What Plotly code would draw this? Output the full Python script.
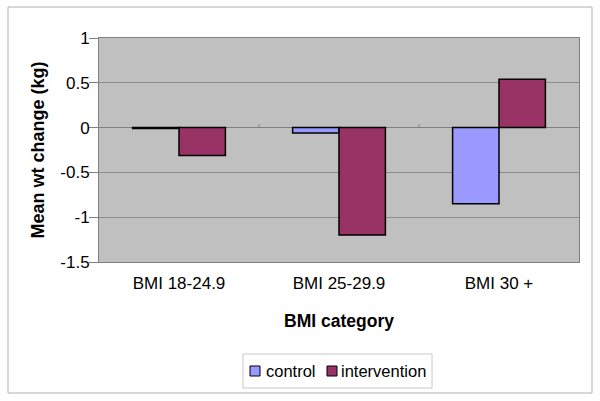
import plotly.graph_objects as go

categories = ["BMI 18-24.9", "BMI 25-29.9", "BMI 30 +"]
control = [-0.01, -0.06, -0.85]
intervention = [-0.31, -1.2, 0.54]
y_ticks = [1, 0.5, 0, -0.5, -1, -1.5]
series_names = ["control", "intervention"]
series_colors = ["#9999FF", "#993366"]

W, H = 600, 401
L, R, T, B = 99, 21, 38, 139
pw, ph = W - L - R, H - T - B

def px(xp):
    return (xp - L) / pw

def py(yp):
    return (H - B - yp) / ph

fig = go.Figure()
for name, vals, col in zip(series_names, [control, intervention], series_colors):
    fig.add_trace(go.Bar(x=categories, y=vals, name=name, showlegend=False,
                         marker=dict(color=col, line=dict(color="black", width=1.5))))

font = "Liberation Sans, Arial, sans-serif"
fig.update_layout(
    width=W, height=H,
    margin=dict(l=L, r=R, t=T, b=B, autoexpand=False),
    paper_bgcolor="white",
    plot_bgcolor="#C0C0C0",
    barmode="group",
    bargap=0.42,
    bargroupgap=0,
    font=dict(family=font, size=17, color="black"),
    showlegend=False,
    xaxis=dict(showgrid=False, zeroline=False, showline=True, linecolor="#808080",
               linewidth=1, mirror=True, ticks="", tickfont=dict(size=17),
               ticklabelstandoff=6, automargin=False,
               title=dict(text="<b>BMI category</b>", font=dict(size=17.5), standoff=22)),
    yaxis=dict(range=[-1.5, 1], tickvals=y_ticks, ticktext=[str(v) for v in y_ticks],
               showgrid=True, gridcolor="#8C8C8C", gridwidth=1,
               zeroline=True, zerolinecolor="#808080", zerolinewidth=1,
               showline=True, linecolor="#808080", linewidth=1, mirror=True,
               ticks="outside", ticklen=9, tickcolor="#808080", tickfont=dict(size=17),
               ticklabelstandoff=-4, automargin=False,
               title=dict(text="<b>Mean wt change (kg)</b>", font=dict(size=18), standoff=11)),
)

# outer chart border
fig.add_shape(type="rect", xref="paper", yref="paper",
              x0=px(8), x1=px(592), y0=py(393), y1=py(7),
              line=dict(color="#B0B0B0", width=1), fillcolor="rgba(0,0,0,0)", layer="below")

# category boundary tick marks on the zero line
for b in [0.5, 1.5]:
    fig.add_shape(type="line", xref="x", yref="y", x0=b, x1=b, y0=0, y1=0.04,
                  line=dict(color="#808080", width=1))

# manual legend
fig.add_shape(type="rect", xref="paper", yref="paper",
              x0=px(243), x1=px(432), y0=py(388), y1=py(354),
              line=dict(color="#C8C8C8", width=1), fillcolor="white")
legend_sq_x = [250, 327]
legend_tx_x = [264, 339]
for name, col, sx, tx in zip(series_names, series_colors, legend_sq_x, legend_tx_x):
    fig.add_shape(type="rect", xref="paper", yref="paper",
                  x0=px(sx), x1=px(sx + 10), y0=py(376), y1=py(366),
                  line=dict(color="black", width=1), fillcolor=col)
    fig.add_annotation(xref="paper", yref="paper", x=px(tx), y=py(370.5),
                       xanchor="left", yanchor="middle", showarrow=False,
                       text=name, font=dict(size=16.5))

fig.write_html("out.html", config={"displayModeBar": False},
               post_script="document.body.style.margin='0px';")
